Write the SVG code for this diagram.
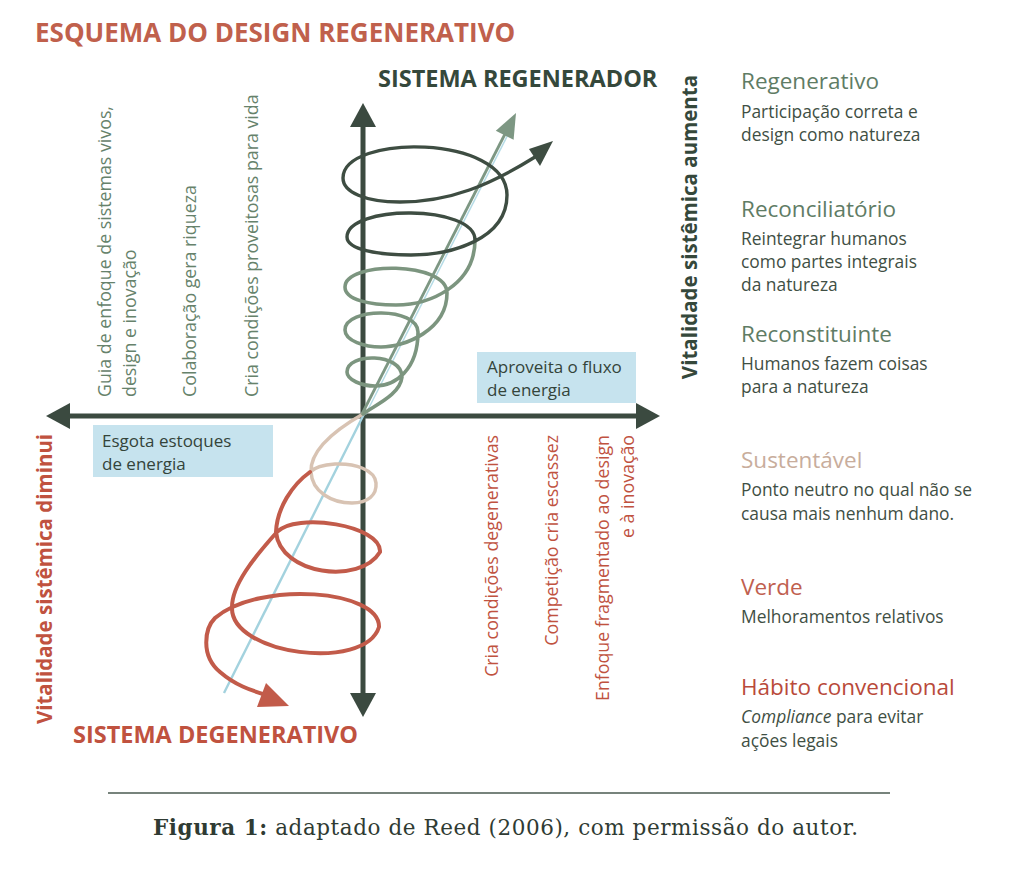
<svg xmlns="http://www.w3.org/2000/svg" width="1013" height="882" viewBox="0 0 1013 882">
<style>
text{font-family:"Open Sans","Noto Sans","DejaVu Sans",sans-serif}
.title{font-size:26px;font-weight:700;fill:#c0604c}
.sys{font-size:23.5px;font-weight:700}
.vit{font-size:20.5px;font-weight:700}
.h{font-size:22.5px}
.b{font-size:17.4px;fill:#3f4f44}
.vg{font-size:17.8px;fill:#66826b}
.vr{font-size:17.8px;fill:#c0523f}
.gr{fill:#35483b}
.rd{fill:#c0523f}
.box{fill:#c6e3ee}
.bt{font-size:17px;fill:#34443a}
.axis{stroke:#3b4a40;stroke-width:5;fill:none}
.sp{fill:none;stroke-linecap:round;stroke-linejoin:round}
text.cap{font-family:"DejaVu Serif","Liberation Serif",serif;font-size:21.5px;fill:#2f3b33}
</style>
<defs>
<marker id="ah" viewBox="0 0 24 26" refX="2" refY="13" markerWidth="24" markerHeight="26" markerUnits="userSpaceOnUse" orient="auto-start-reverse">
<path d="M0,0 L24,13 L0,26 Z" fill="#3b4a40"/>
</marker>
</defs>
<rect width="1013" height="882" fill="#ffffff"/>

<g id="title"><text class="title" x="35" y="42">ESQUEMA DO DESIGN REGENERATIVO</text></g>

<g id="box-aproveita">
<rect class="box" x="477" y="352" width="159" height="51"/>
<text class="bt" x="487" y="373">Aproveita o fluxo</text>
<text class="bt" x="487" y="396">de energia</text>
</g>
<g id="box-esgota">
<rect class="box" x="93" y="425" width="180" height="52"/>
<text class="bt" x="102" y="447">Esgota estoques</text>
<text class="bt" x="102" y="470">de energia</text>
</g>

<g id="connectors">
<line class="axis" x1="363" y1="695" x2="363" y2="125" marker-start="url(#ah)" marker-end="url(#ah)"/>
<line class="axis" x1="68" y1="416" x2="638" y2="416" marker-start="url(#ah)" marker-end="url(#ah)"/>
<line x1="224" y1="693" x2="364" y2="414" stroke="#a3d2de" stroke-width="2.4"/>
<line x1="364" y1="414" x2="508" y2="131" stroke="#b5dce6" stroke-width="1.5" transform="translate(1.5,0.5)"/>
<line x1="362" y1="414" x2="505" y2="134" stroke="#7d9783" stroke-width="2.8"/>
<polygon points="516,113 513.6,139.8 495.8,130.8" fill="#7d9783"/>
<path class="sp" stroke="#d8c3b3" stroke-width="3.5" d="M363 414 C335 430 310 450 311 472 C312 492 332 503 352 503 C368 503 377 495 376 483 C375 470 355 463 335 464 C322 465 314 468 310 472"/>
<path class="sp" stroke="#c25b4a" stroke-width="4" d="M310 472 C292 485 277 508 276 532 C280 575 360 585 380 552 C382 525 295 512 277 532 C253.6 558 232 585 232 607 C230 655 365 672 379 627 C380 590 260 580 215 618 C205 628 200 655 220 672 C235 685 250 690 266 695"/>
<polygon points="289,706 266,683 257,707" fill="#c25b4a"/>
<path class="sp" stroke="#7c957f" stroke-width="3.6" d="M363 414 C375 405 400 395 402 377 C402 352.5 347 352.5 347 372 C347 380 362 386 375 386 C395 386 418 370 418 332 C418 307 345 307 345 330 C345 341 365 347 381 347 C405 347 447 330 447 293 C447 261 345 261 345 287 C345 300 370 305 396 305 C430 305 475 285 475 240"/>
<path class="sp" stroke="#3e4d42" stroke-width="3.4" d="M475 240 C475 204.5 347 204.5 347 237 C347 250 380 255 411 255 C450 255 507 240 507 195 C507 134 343 134 343 178 C343 192 365 202 400 202 C450 202 490 185 535 157"/>
<polygon points="553,141 529,149 540,166" fill="#3e4d42"/>
</g>

<g id="label-regenerador"><text class="sys gr" x="378" y="87">SISTEMA REGENERADOR</text></g>
<g id="label-degenerativo"><text class="sys rd" x="73" y="743">SISTEMA DEGENERATIVO</text></g>
<g id="label-aumenta"><text class="vit gr" text-anchor="middle" transform="translate(697,227) rotate(-90)">Vitalidade sistêmica aumenta</text></g>
<g id="label-diminui"><text class="vit rd" text-anchor="middle" transform="translate(52,579) rotate(-90)">Vitalidade sistêmica diminui</text></g>

<g id="left-guia">
<text class="vg" transform="translate(111,397) rotate(-90)">Guia de enfoque de sistemas vivos,</text>
<text class="vg" transform="translate(136,397) rotate(-90)">design e inovação</text>
</g>
<g id="left-colaboracao"><text class="vg" transform="translate(196,397) rotate(-90)">Colaboração gera riqueza</text></g>
<g id="left-cria"><text class="vg" transform="translate(258,397) rotate(-90)">Cria condições proveitosas para vida</text></g>

<g id="right-cria"><text class="vr" text-anchor="end" transform="translate(498,435) rotate(-90)">Cria condições degenerativas</text></g>
<g id="right-competicao"><text class="vr" text-anchor="end" transform="translate(558,435) rotate(-90)">Competição cria escassez</text></g>
<g id="right-enfoque">
<text class="vr" text-anchor="end" transform="translate(609,435) rotate(-90)">Enfoque fragmentado ao design</text>
<text class="vr" text-anchor="end" transform="translate(634,435) rotate(-90)">e à inovação</text>
</g>

<g id="level-regenerativo">
<text class="h" fill="#5f7c65" x="741" y="89">Regenerativo</text>
<text class="b" x="741" y="118">Participação correta e</text>
<text class="b" x="741" y="141">design como natureza</text>
</g>
<g id="level-reconciliatorio">
<text class="h" fill="#5f7c65" x="741" y="217">Reconciliatório</text>
<text class="b" x="741" y="245">Reintegrar humanos</text>
<text class="b" x="741" y="268">como partes integrais</text>
<text class="b" x="741" y="291">da natureza</text>
</g>
<g id="level-reconstituinte">
<text class="h" fill="#5f7c65" x="741" y="342">Reconstituinte</text>
<text class="b" x="741" y="370">Humanos fazem coisas</text>
<text class="b" x="741" y="393">para a natureza</text>
</g>
<g id="level-sustentavel">
<text class="h" fill="#c8ad9c" x="741" y="468">Sustentável</text>
<text class="b" x="741" y="496">Ponto neutro no qual não se</text>
<text class="b" x="741" y="520">causa mais nenhum dano.</text>
</g>
<g id="level-verde">
<text class="h" fill="#c0604f" x="741" y="595">Verde</text>
<text class="b" x="741" y="623">Melhoramentos relativos</text>
</g>
<g id="level-habito">
<text class="h" fill="#b94a3a" x="741" y="695">Hábito convencional</text>
<text class="b" x="741" y="723"><tspan font-style="italic">Compliance</tspan> para evitar</text>
<text class="b" x="741" y="747">ações legais</text>
</g>

<g id="caption">
<line x1="108" y1="793" x2="890" y2="793" stroke="#4a5a50" stroke-width="1.5"/>
<text class="cap" x="153" y="835" textLength="705" lengthAdjust="spacing"><tspan font-weight="700">Figura 1:</tspan> adaptado de Reed (2006), com permissão do autor.</text>
</g>
</svg>
